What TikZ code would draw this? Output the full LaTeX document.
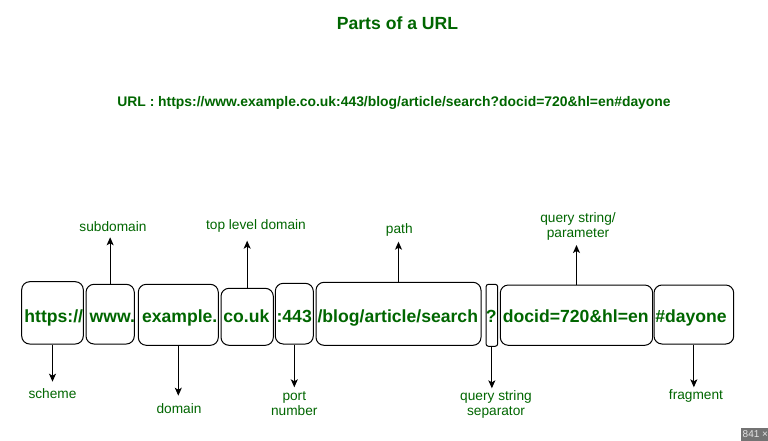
\documentclass[tikz,border=0pt]{standalone}
\usepackage{fontspec}
\setmainfont{Liberation Sans}
\usetikzlibrary{arrows.meta}
\definecolor{urlgreen}{HTML}{006600}
\begin{document}
\begin{tikzpicture}[x=1pt,y=-1pt,
  partbox/.style={draw=black, line width=1pt, rounded corners=8pt, inner sep=0pt},
  parttext/.style={font=\fontsize{17.6}{20}\selectfont\bfseries, text=urlgreen, anchor=base, inner sep=0pt},
  partlabel/.style={font=\fontsize{13.7}{14.7}\selectfont, text=urlgreen, align=center, inner sep=0pt},
  conn/.style={draw=black, line width=1pt, -{Stealth[length=8pt,width=7pt,inset=2pt]}}]
\useasboundingbox (0,0) rectangle (768,441);
\fill[white] (0,0) rectangle (768,441);

% title and url
\node[font=\fontsize{17.6}{20}\selectfont\bfseries, text=urlgreen, anchor=base, inner sep=0pt] (title) at (397.5,30) {Parts of a URL};
\node[font=\fontsize{13.9}{16}\selectfont\bfseries, text=urlgreen, anchor=base, inner sep=0pt] (url) at (394,106.7) {URL : https://www.example.co.uk:443/blog/article/search?docid=720\&hl=en\#dayone};

% boxes
\node[partbox, minimum width=61.6pt, minimum height=62.3pt] (bscheme) at (52.5,312.85) {};
\node[partbox, minimum width=48.3pt, minimum height=59.7pt] (bwww) at (110.15,314.15) {};
\node[partbox, minimum width=80pt, minimum height=61pt] (bexample) at (178.3,314.8) {};
\node[partbox, minimum width=52.3pt, minimum height=57pt] (bcouk) at (247.15,316.8) {};
\node[partbox, minimum width=38pt, minimum height=60.7pt] (bport) at (294.3,313.65) {};
\node[partbox, minimum width=165pt, minimum height=63pt] (bpath) at (398.5,313.8) {};
\node[partbox, rounded corners=2.5pt, minimum width=11.7pt, minimum height=62pt] (bqmark) at (491.85,315.3) {};
\node[partbox, minimum width=152.4pt, minimum height=60.3pt] (bquery) at (576.5,315.15) {};
\node[partbox, minimum width=79.7pt, minimum height=59pt] (bfrag) at (693.85,314.5) {};

% box texts
\node[parttext] (tscheme) at (53.8,322.5) {https://};
\node[parttext] (twww) at (112.3,322.5) {www.};
\node[parttext] (texample) at (179.7,322.5) {example.};
\node[parttext] (tcouk) at (246.3,322.5) {co.uk};
\node[parttext] (tport) at (294.2,322.5) {:443};
\node[parttext] (tpath) at (397.8,322.5) {/blog/article/search};
\node[parttext] (tqmark) at (491.2,322.5) {?};
\node[parttext] (tquery) at (575.8,322.5) {docid=720\&hl=en};
\node[parttext] (tfrag) at (691,322.5) {\#dayone};

% labels
\node[partlabel] (lsub) at (113,226.7) {subdomain};
\node[partlabel] (ltld) at (256,226) {top level domain};
\node[partlabel] (lpath) at (399.3,230) {path};
\node[partlabel] (lquery) at (578,226.7) {query string/\\parameter};
\node[partlabel] (lscheme) at (52.5,394) {scheme};
\node[partlabel] (ldomain) at (179,408.3) {domain};
\node[partlabel] (lport) at (294.3,403.3) {port\\number};
\node[partlabel] (lsep) at (496,404.3) {query string\\separator};
\node[partlabel] (lfrag) at (696,396) {fragment};

% arrow tips
\coordinate (csub) at (110.15,237.3);
\coordinate (ctld) at (247.15,240.7);
\coordinate (cpath) at (398.5,241.7);
\coordinate (cquery) at (576.5,245);
\coordinate (cscheme) at (52.5,381.7);
\coordinate (cdomain) at (178.3,395.7);
\coordinate (cport) at (294.3,387.3);
\coordinate (csep) at (491.85,388.3);
\coordinate (cfrag) at (693.85,387.3);

\draw[conn] (bwww.north) -- (csub);
\draw[conn] (bcouk.north) -- (ctld);
\draw[conn] (bpath.north) -- (cpath);
\draw[conn] (bquery.north) -- (cquery);
\draw[conn] (bscheme.south) -- (cscheme);
\draw[conn] (bexample.south) -- (cdomain);
\draw[conn] (bport.south) -- (cport);
\draw[conn] (bqmark.south) -- (csep);
\draw[conn] (bfrag.south) -- (cfrag);

% corner badge
\node[fill=black!55, minimum width=28pt, minimum height=14pt, inner sep=0pt, anchor=north west] (badge) at (740.5,427.3) {};
\node[font=\fontsize{10}{12}\selectfont, text=black!10, anchor=west, inner sep=0pt] (badgetext) at (742.5,434.5) {841 ×};
\end{tikzpicture}
\end{document}
